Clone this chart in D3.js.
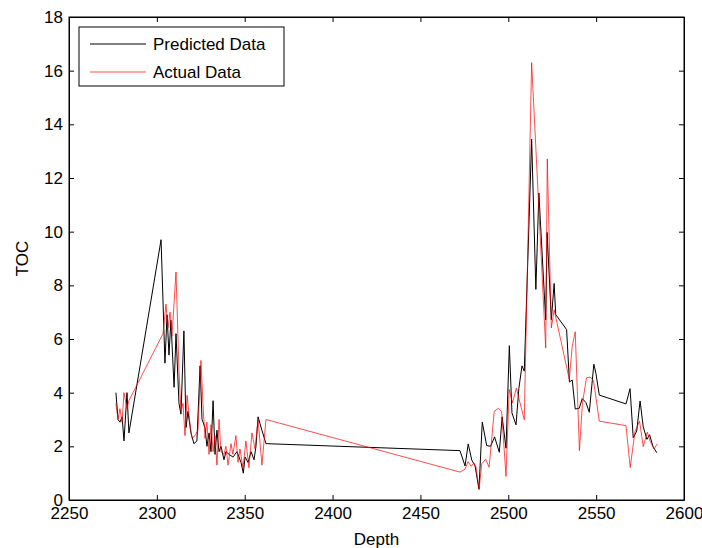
<!DOCTYPE html>
<html><head><meta charset="utf-8">
<script src="https://cdn.jsdelivr.net/npm/d3@7"></script>
<style>
body{margin:0;background:#fff;}
svg{display:block;}
text{font-family:"Liberation Sans",Arial,sans-serif;font-size:17px;fill:#000;}
</style></head>
<body>
<svg id="chart" width="702" height="548"></svg>
<script>
// Predicted Data (black)
const predDepth = [2276.7,2277.9,2279.0,2280.2,2281.3,2283.0,2284.1,2302.4,2304.6,2305.8,2306.9,2308.0,2309.8,2310.9,2312.6,2313.7,2315.4,2316.6,2317.7,2319.4,2321.1,2322.8,2324.6,2325.7,2327.4,2328.5,2329.7,2330.8,2332.0,2333.1,2334.2,2335.4,2336.5,2338.2,2339.3,2341.1,2343.3,2345.6,2347.9,2349.2,2350.2,2351.9,2353.6,2355.3,2356.4,2357.6,2359.8,2362.1,
2472.5,2475.4,2477.2,2479.2,2481.1,2483.3,2485.2,2487.7,2489.9,2492.2,2494.9,2496.5,2498.7,2500.6,2502.1,2504.4,2506.0,2507.8,2509.1,2513.3,2515.7,2517.4,2521.3,2522.1,2524.5,2526.1,2527.0,2533.2,2534.8,2536.4,2538.1,2540.4,2542.1,2544.2,2546.1,2548.7,2549.9,2551.8,2567.0,2569.3,2571.1,2573.1,2575.0,2576.8,2578.9,2580.4,2582.4,2584.5];
const predTOC = [4.0,3.0,2.9,3.1,2.2,4.0,2.5,9.7,5.1,6.9,5.4,6.7,4.2,6.2,3.6,3.2,6.3,2.7,3.3,2.5,2.1,2.2,5.0,3.0,2.7,2.0,2.5,1.8,3.7,1.7,2.6,1.8,2.0,1.5,1.8,1.7,1.6,1.8,1.4,1.0,1.6,1.4,1.8,1.5,2.0,3.1,2.6,2.1,
1.84,1.27,2.09,1.49,1.27,0.40,2.90,2.03,2.00,2.35,1.78,3.1,1.93,5.75,3.24,2.80,4.15,5.0,4.8,13.45,7.85,11.44,6.71,9.97,6.72,8.07,6.91,6.35,4.40,4.47,3.39,3.42,3.78,3.63,3.27,5.06,4.71,3.91,3.58,4.15,2.32,2.57,3.69,2.73,2.26,2.43,1.99,1.76];

// Actual Data (red)
const actDepth = [2276.7,2277.9,2279.0,2280.2,2281.3,2283.0,2284.1,2303.5,2305.2,2306.3,2307.5,2308.6,2310.9,2312.6,2313.7,2314.9,2316.0,2317.2,2318.9,2320.0,2321.7,2323.4,2325.1,2326.3,2327.4,2328.5,2329.7,2330.8,2332.0,2333.1,2334.2,2335.4,2336.5,2338.2,2339.3,2340.5,2342.2,2343.3,2345.0,2346.2,2347.3,2349.0,2350.7,2352.4,2354.1,2355.9,2357.6,2359.8,2362.1,
2472.5,2475.4,2477.1,2478.8,2480.5,2481.6,2483.4,2484.9,2487.1,2489.1,2492.0,2494.3,2496.2,2498.7,2500.5,2502.4,2504.6,2509.1,2513.3,2521.3,2522.2,2524.5,2526.1,2534.7,2536.4,2538.1,2540.5,2542.2,2544.5,2546.5,2548.5,2551.8,2567.0,2569.4,2572.1,2574.7,2576.8,2579.1,2580.6,2582.9,2584.8];
const actTOC = [3.6,3.0,3.4,2.9,4.0,3.4,3.7,6.2,7.3,6.4,7.0,6.1,8.5,4.8,3.3,3.6,2.4,3.9,2.8,2.3,2.4,2.6,5.2,3.5,2.3,2.9,1.7,2.8,1.8,2.4,1.3,3.0,1.8,1.7,2.0,1.3,2.1,1.7,2.4,1.4,1.9,1.2,2.2,1.2,2.5,1.9,3.0,1.3,3.0,
1.04,1.15,1.43,1.25,1.38,1.24,0.40,1.35,1.52,1.22,3.30,3.42,3.30,0.88,4.12,3.62,4.17,2.99,16.3,5.66,12.71,6.41,7.09,4.5,5.73,6.27,1.84,3.6,4.55,4.58,4.45,2.94,2.77,1.21,2.55,2.94,1.99,2.53,2.21,1.90,2.09];

const xTicks = [2250,2300,2350,2400,2450,2500,2550,2600];
const yTicks = [0,2,4,6,8,10,12,14,16,18];
const seriesNames = ["Predicted Data","Actual Data"];
const seriesColors = ["#000000","#ff0000"];

const L=69, R=684, T=17, B=500;
const svg = d3.select("#chart");
const x = d3.scaleLinear().domain([2250,2600]).range([L,R]);
const y = d3.scaleLinear().domain([0,18]).range([B,T]);

const line = d3.line().x(d=>x(d[0])).y(d=>y(d[1]));
const pred = predDepth.map((d,i)=>[d,predTOC[i]]);
const act = actDepth.map((d,i)=>[d,actTOC[i]]);

svg.append("path").datum(pred).attr("d",line).attr("fill","none")
  .attr("stroke",seriesColors[0]).attr("stroke-width",1);
svg.append("path").datum(act).attr("d",line).attr("fill","none")
  .attr("stroke",seriesColors[1]).attr("stroke-width",0.7);

// axes (ticks inside)
const tl = 5;
const gx = svg.append("g").attr("transform",`translate(0,${B})`)
  .call(d3.axisBottom(x).tickValues(xTicks).tickSizeInner(-tl).tickSizeOuter(0).tickPadding(7).tickFormat(d3.format("d")));
const gxt = svg.append("g").attr("transform",`translate(0,${T})`)
  .call(d3.axisTop(x).tickValues(xTicks).tickSizeInner(-tl).tickSizeOuter(0).tickFormat(""));
const gy = svg.append("g").attr("transform",`translate(${L},0)`)
  .call(d3.axisLeft(y).tickValues(yTicks).tickSizeInner(-tl).tickSizeOuter(0).tickPadding(6).tickFormat(d3.format("d")));
const gyr = svg.append("g").attr("transform",`translate(${R},0)`)
  .call(d3.axisRight(y).tickValues(yTicks).tickSizeInner(-tl).tickSizeOuter(0).tickFormat(""));
[gx,gxt,gy,gyr].forEach(g=>{
  g.select(".domain").attr("stroke","#000").attr("stroke-width",1);
  g.selectAll(".tick line").attr("stroke","#000");
  g.selectAll("text").attr("font-family","Liberation Sans, Arial, sans-serif").attr("font-size",17).attr("fill","#000");
});
svg.append("rect").attr("x",L).attr("y",T).attr("width",R-L).attr("height",B-T)
  .attr("fill","none").attr("stroke","#000").attr("stroke-width",1);

svg.append("text").attr("x",(L+R)/2).attr("y",545).attr("text-anchor","middle").text("Depth");
svg.append("text").attr("transform",`translate(28,${(T+B)/2}) rotate(-90)`).attr("text-anchor","middle").text("TOC");

// legend
const lg = svg.append("g");
lg.append("rect").attr("x",79).attr("y",27).attr("width",205).attr("height",59)
  .attr("fill","#fff").attr("stroke","#000").attr("stroke-width",1);
seriesNames.forEach((n,i)=>{
  const yy = 44 + i*28;
  lg.append("line").attr("x1",90).attr("x2",146).attr("y1",yy).attr("y2",yy)
    .attr("stroke",seriesColors[i]).attr("stroke-width",i?0.7:1);
  lg.append("text").attr("x",153).attr("y",yy+6).text(n);
});
</script>
</body></html>
